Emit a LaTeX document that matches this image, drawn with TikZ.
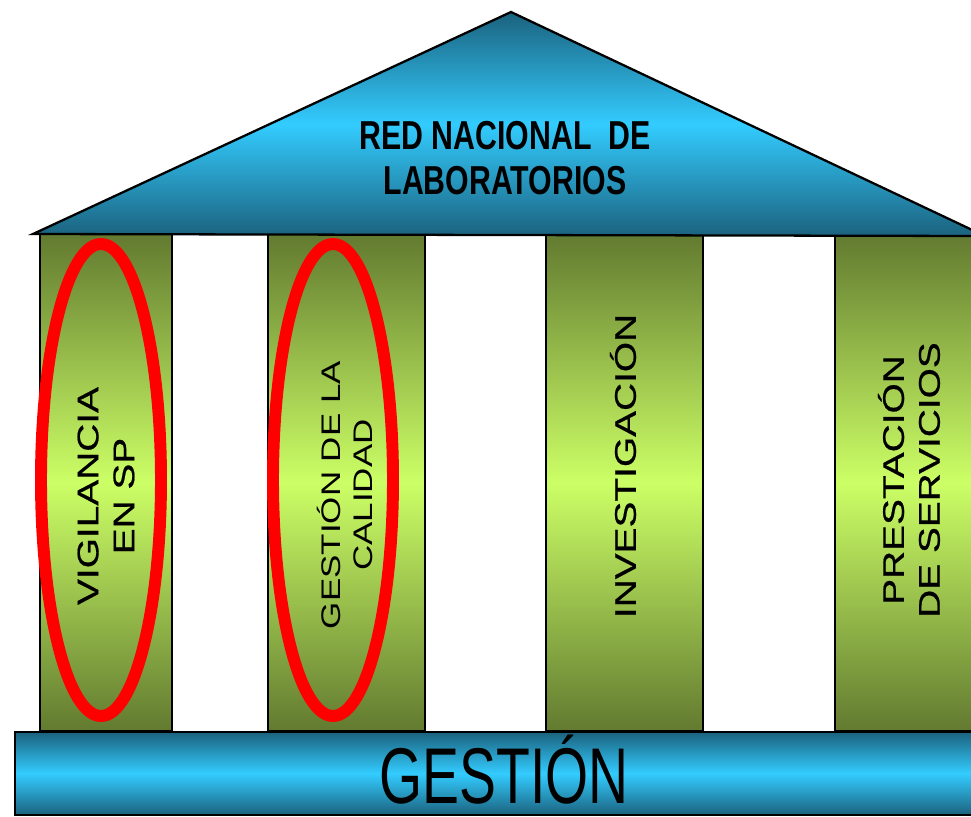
\documentclass[tikz,border=0pt]{standalone}
\usepackage{fontspec}
\setmainfont{Liberation Sans}
\newfontfamily\rooffont[FakeStretch=0.75]{Liberation Sans}
\newfontfamily\pillarfont[FakeStretch=1.3, FakeBold=0.6]{Liberation Sans}
\newfontfamily\calfont[FakeStretch=1.3]{Liberation Sans}
\newfontfamily\basefont[FakeStretch=0.7]{Liberation Sans}

\definecolor{skydark}{RGB}{27,98,126}
\definecolor{skylight}{RGB}{51,204,255}
\definecolor{olivedark}{RGB}{98,122,48}
\definecolor{olivelight}{RGB}{204,255,102}

\tikzset{
    roofpart/.style={draw=black, line width=1.3pt, top color=skydark, bottom color=skydark, middle color=skylight},
    pillar/.style={draw=black, line width=0.8pt, top color=olivedark, bottom color=olivedark, middle color=olivelight},
    ring/.style={draw=red, line width=6.8pt},
    pillarlabel/.style={rotate=90, align=center, inner sep=0pt, font=\pillarfont\fontsize{17}{20.4}\selectfont},
}

\begin{document}
\begin{tikzpicture}[x=0.02cm, y=-0.02cm]
            \clip (0,0) rectangle (971,816);
            \fill[white] (0,0) rectangle (971,816);
            \foreach \l/\r in {40/172, 268/425, 546/703, 835/990} {
                \draw[pillar] (\l,234) rectangle (\r,731);
            };
            \draw[roofpart] (33,234) -- (511,12) -- (985,236) -- cycle;
            \draw[roofpart] (15,732) rectangle (990,815);
            \foreach \c in {101, 333} {
                \draw[ring] (\c,480) ellipse [x radius=60, y radius=236];
            };
            \node[align=center, font=\rooffont\bfseries\fontsize{23}{25.5}\selectfont] (red) at (505,158) {RED NACIONAL~~DE\\LABORATORIOS};
            \node[pillarlabel] (vig) at (106,496) {VIGILANCIA\\EN SP};
            \node[pillarlabel, font=\calfont\fontsize{15.3}{18.7}\selectfont] (cal) at (345,495) {GESTIÓN DE LA\\CALIDAD};
            \node[pillarlabel] (inv) at (623,466) {INVESTIGACIÓN};
            \node[pillarlabel] (pre) at (909,480) {PRESTACIÓN\\DE SERVICIOS};
            \node[anchor=base, inner sep=0pt, font=\basefont\fontsize{45}{48}\selectfont] (gestion) at (504,803) {GESTIÓN};
        \end{tikzpicture}
\end{document}
